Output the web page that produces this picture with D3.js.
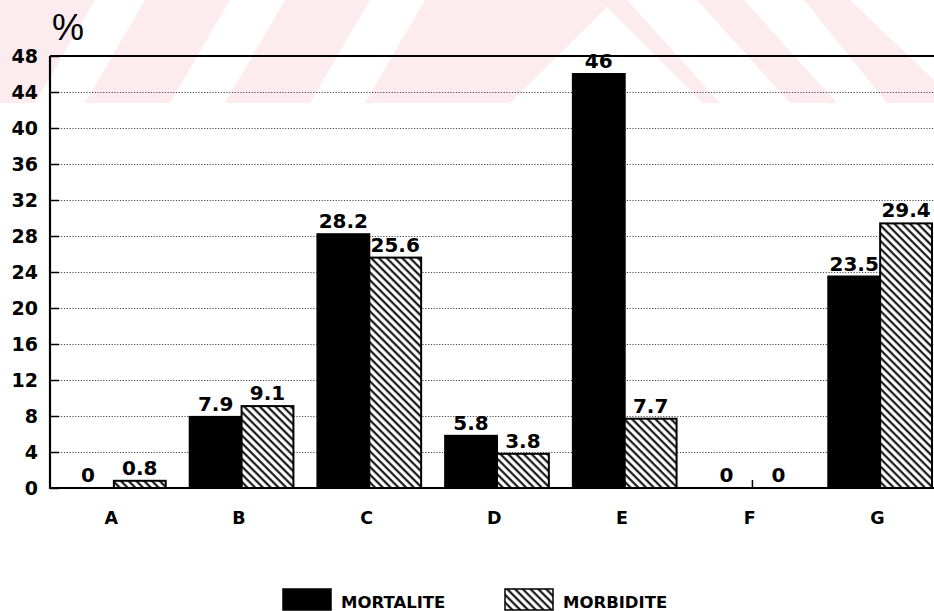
<!DOCTYPE html>
<html>
<head>
<meta charset="utf-8">
<script src="https://cdn.jsdelivr.net/npm/d3@7"></script>
<style>
  html, body { margin: 0; padding: 0; background: #fff; }
  svg { display: block; }
  text { font-family: "DejaVu Sans", sans-serif; font-weight: bold; fill: #000; }
</style>
</head>
<body>
<svg width="934" height="611"></svg>
<script>
// data
const categories = ['A', 'B', 'C', 'D', 'E', 'F', 'G']
const seriesNames = ['MORTALITE', 'MORBIDITE']
const mortalite = [0, 7.9, 28.2, 5.8, 46, 0, 23.5]
const morbidite = [0.8, 9.1, 25.6, 3.8, 7.7, 0, 29.4]
const yTicks = [0, 4, 8, 12, 16, 20, 24, 28, 32, 36, 40, 44, 48]

let svg = d3.select('svg')
let width = +svg.attr('width')
let height = +svg.attr('height')

const plotLeft = 50, plotRight = 934, plotTop = 56, plotBottom = 488

const rows = categories.map((c, i) => ({
  cat: c,
  values: [
    { key: seriesNames[0], value: mortalite[i] },
    { key: seriesNames[1], value: morbidite[i] }
  ]
}))

const x0 = d3.scaleBand().domain(categories).range([plotLeft, 944]).paddingInner(0)
const bw = x0.bandwidth()
const x1 = d3.scaleBand().domain(seriesNames).range([12, bw - 12]).padding(0)
const y = d3.scaleLinear().domain([0, 48]).range([plotBottom, plotTop])

// hatch for MORBIDITE
const defs = svg.append('defs')
defs.append('pattern')
  .attr('id', 'hatch')
  .attr('patternUnits', 'userSpaceOnUse')
  .attr('width', 5.5).attr('height', 5.5)
  .attr('patternTransform', 'rotate(-45)')
  .call(p => {
    p.append('rect').attr('width', 5.5).attr('height', 5.5).attr('fill', '#fff')
    p.append('line').attr('x1', 1.5).attr('y1', 0).attr('x2', 1.5).attr('y2', 5.5)
      .attr('stroke', '#000').attr('stroke-width', 2)
  })
const fillOf = k => k === seriesNames[0] ? '#000' : 'url(#hatch)'

// faint pink watermark band at the top of the scan
const wm = svg.append('g').attr('class', 'watermark')
wm.append('rect').attr('x', 0).attr('y', 0).attr('width', width).attr('height', 103).attr('fill', '#fdecef')
const whiteBands = [
  [[95, 0], [145, 0], [85, 103], [35, 103]],
  [[230, 0], [285, 0], [225, 103], [170, 103]],
  [[370, 0], [425, 0], [365, 103], [310, 103]],
  [[607, 7], [703, 103], [510, 103]],
  [[627, 0], [697, 0], [790, 103], [720, 103]],
  [[744, 0], [804, 0], [887, 103], [837, 103]],
  [[850, 0], [934, 0], [934, 80]]
]
wm.selectAll('polygon').data(whiteBands).join('polygon')
  .attr('points', d => d.map(p => p.join(',')).join(' '))
  .attr('fill', '#fff')

// dotted grid lines
svg.append('g')
  .attr('transform', `translate(${plotLeft},0)`)
  .call(d3.axisLeft(y).tickValues(yTicks.filter(t => t > 0 && t < 48)).tickSize(-(plotRight - plotLeft)).tickFormat(''))
  .call(g => g.select('.domain').remove())
  .call(g => g.selectAll('line').attr('stroke', '#333').attr('stroke-width', 0.9).attr('stroke-dasharray', '1.2,1.6'))

// short inward ticks
svg.append('g')
  .attr('transform', `translate(${plotLeft},0)`)
  .call(d3.axisLeft(y).tickValues(yTicks).tickSize(-9).tickFormat(''))
  .call(g => g.select('.domain').remove())
  .call(g => g.selectAll('line').attr('stroke', '#000').attr('stroke-width', 1.5))

// tick labels
svg.append('g')
  .attr('transform', `translate(${plotLeft},0)`)
  .call(d3.axisLeft(y).tickValues(yTicks).tickSize(0).tickPadding(12))
  .call(g => g.select('.domain').remove())
  .call(g => g.selectAll('text')
    .style('font-family', '"DejaVu Sans", sans-serif')
    .style('font-weight', 'bold')
    .style('font-size', '19px')
    .attr('fill', '#000'))

// bars
const groups = svg.append('g').selectAll('g')
  .data(rows).join('g')
  .attr('transform', d => `translate(${x0(d.cat)},0)`)

groups.selectAll('rect')
  .data(d => d.values.filter(v => v.value > 0))
  .join('rect')
  .attr('x', d => x1(d.key))
  .attr('y', d => y(d.value))
  .attr('width', x1.bandwidth())
  .attr('height', d => y(0) - y(d.value))
  .attr('fill', d => fillOf(d.key))
  .attr('stroke', '#000')
  .attr('stroke-width', 2)

groups.selectAll('text')
  .data(d => d.values)
  .join('text')
  .attr('x', d => x1(d.key) + x1.bandwidth() / 2)
  .attr('y', d => y(d.value) - 6)
  .attr('text-anchor', 'middle')
  .style('font-size', '20px')
  .text(d => d.value)

// axis lines
svg.append('line')
  .attr('x1', plotLeft).attr('x2', plotRight).attr('y1', y(48)).attr('y2', y(48))
  .attr('stroke', '#000').attr('stroke-width', 1.8)
svg.append('line')
  .attr('x1', plotLeft).attr('x2', plotRight).attr('y1', y(0)).attr('y2', y(0))
  .attr('stroke', '#000').attr('stroke-width', 2.2)
svg.append('line')
  .attr('x1', plotLeft).attr('x2', plotLeft).attr('y1', y(48)).attr('y2', y(0) + 1)
  .attr('stroke', '#000').attr('stroke-width', 2.2)

// x axis: category ticks pointing up, labels below
svg.append('g')
  .attr('transform', `translate(0,${plotBottom})`)
  .call(d3.axisBottom(x0).tickSize(-8).tickPadding(24))
  .call(g => g.select('.domain').remove())
  .call(g => g.selectAll('line').attr('stroke', '#000').attr('stroke-width', 1.5))
  .call(g => g.selectAll('text')
    .attr('dx', '-0.15em')
    .style('font-family', '"DejaVu Sans", sans-serif')
    .style('font-weight', 'bold')
    .style('font-size', '17.5px')
    .attr('fill', '#000'))

// % unit
svg.append('text')
  .attr('x', 68).attr('y', 40)
  .attr('text-anchor', 'middle')
  .style('font-family', '"Liberation Sans", sans-serif')
  .style('font-weight', 'normal')
  .style('font-size', '36px')
  .text('%')

// legend
const legend = svg.append('g').selectAll('g')
  .data(seriesNames).join('g')
  .attr('transform', (d, i) => `translate(${283 + i * 222},589)`)
legend.append('rect')
  .attr('width', 48).attr('height', 21)
  .attr('fill', d => fillOf(d))
  .attr('stroke', '#000').attr('stroke-width', 1.5)
legend.append('text')
  .attr('x', 58).attr('y', 19)
  .style('font-size', '16.5px')
  .text(d => d)
</script>
</body>
</html>
